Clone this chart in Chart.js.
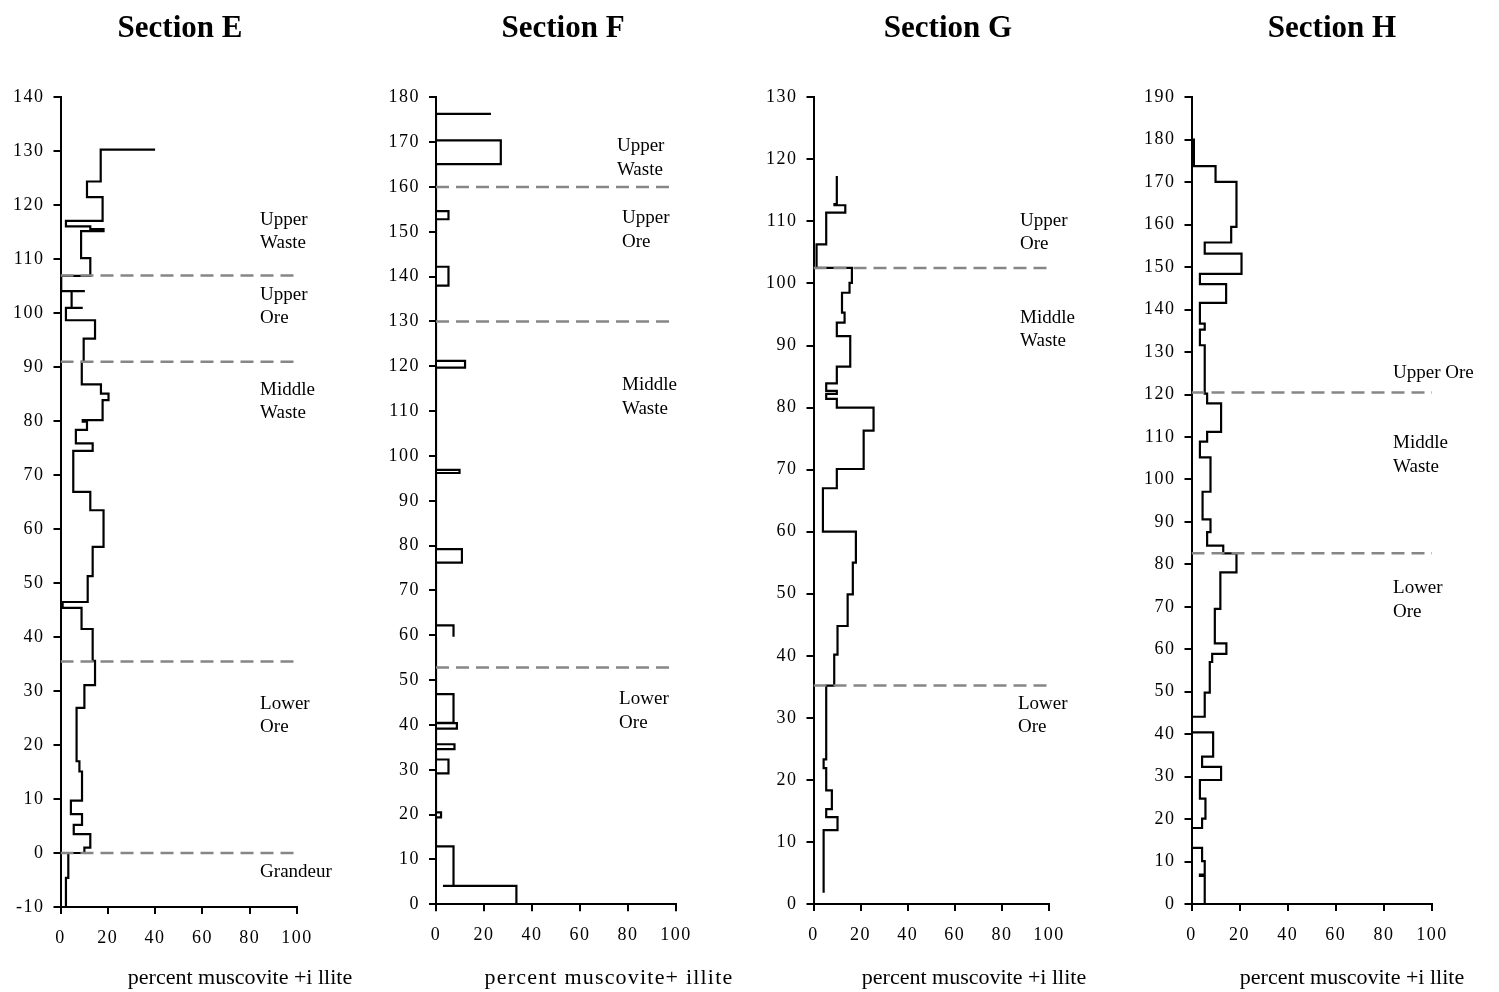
<!DOCTYPE html>
<html>
<head>
<meta charset="utf-8">
<script src="https://cdn.jsdelivr.net/npm/chart.js@4.4.1/dist/chart.umd.min.js"></script>
<style>
  html, body { margin: 0; padding: 0; background: #fff; }
  #wrap { position: relative; width: 1499px; height: 992px; overflow: hidden; }
  canvas { position: absolute; top: 0; }
</style>
</head>
<body>
<div id="wrap">
  <canvas id="secE" width="375" height="992" style="left:0px"></canvas>
  <canvas id="secF" width="375" height="992" style="left:375px"></canvas>
  <canvas id="secG" width="375" height="992" style="left:750px"></canvas>
  <canvas id="secH" width="374" height="992" style="left:1125px"></canvas>
</div>
<script>
// depth boundaries (top -> bottom) and percent muscovite + illite for each interval
const eDepth = [130.3, 130.3, 124.4, 121.5, 117.1, 116.1, 115.6, 115.2, 110.2, 106.9,
                104.1, 104.1, 101.0, 101.0, 98.7, 95.3, 91.0, 86.8, 85.1, 83.9,
                80.2, 79.9, 78.4, 75.9, 74.5, 66.9, 63.5, 56.7, 51.3, 46.5,
                45.4, 41.5, 35.6, 31.1, 26.9, 17.0, 15.1, 9.7, 7.2, 5.2,
                3.5, 1.0, 0.0, -4.6, -10];
const ePct = [40, 17, 11.2, 17.8, 2.3, 12.6, 18.2, 8.7, 12.6, 0.3,
              10.3, 4.7, 9.4, 2.3, 14.6, 9.8, 9.0, 17.1, 20.3, 17.8,
              9.4, 11.2, 6.5, 13.6, 5.4, 12.6, 18.2, 13.6, 11.5, 0.9,
              8.9, 13.6, 14.6, 10.1, 6.8, 8.0, 9.1, 4.4, 9.1, 5.6,
              12.6, 10.1, 3.3, 2.3];

const fDepth = [176.3, 176.3, 170.4, 165.1, 154.6, 152.8, 142.2, 138.0, 121.2, 119.7,
                96.9, 96.2, 79.2, 76.2, 62.2, 59.7, 59.7, 46.9, 40.5, 40.4, 39.2,
                35.7, 34.6, 32.3, 29.2, 20.5, 19.4, 12.9, 4.1, 4.1, 0];
const fPct = [22.9, 0, 27.0, 0, 5.2, 0, 5.2, 0, 12.1, 0,
              9.8, 0, 10.8, 0, 7.3, null, 0, 7.3, 0, 8.7,
              0, 7.7, 0, 5.2, 0, 2.1, 0, 7.3, 2.9, 33.5];

const gDepth = [117.3, 112.8, 112.6, 111.4, 106.3, 102.5, 100.1, 98.5, 95.3, 93.7,
                91.5, 86.6, 83.9, 82.7, 82.2, 81.4, 80.0, 76.3, 70.1, 67.0,
                60.0, 55.0, 49.9, 44.8, 40.2, 35.2, 23.3, 21.9, 18.3, 15.3,
                14.0, 11.9, 1.8];
const gPct = [9.9, 8.9, 13.5, 5.4, 1.3, 16.3, 15.3, 12.1, 13.2, 9.9,
              15.6, 9.9, 5.4, 9.9, 5.4, 9.9, 25.5, 21.3, 9.9, 4.0,
              18.0, 16.7, 14.5, 10.2, 8.8, 5.4, 4.3, 5.4, 7.8, 5.4,
              10.2, 4.3];

const hDepth = [180.3, 173.8, 170.1, 159.5, 155.8, 153.2, 148.4, 146.0, 141.6, 136.7,
                135.3, 131.6, 120.2, 117.9, 111.2, 108.9, 105.2, 97.1, 90.6, 87.6,
                84.4, 82.6, 78.1, 69.5, 61.4, 58.9, 57.0, 49.8, 44.1, 40.4,
                34.7, 32.3, 29.2, 24.8, 20.1, 17.9, 13.2, 10.1, 6.9, 6.6, 0];
const hPct = [1.0, 10.0, 18.7, 16.5, 5.5, 20.8, 3.5, 14.4, 3.5, 5.5,
              3.5, 5.5, 6.5, 12.3, 6.5, 3.5, 7.9, 4.6, 7.9, 6.5,
              13.2, 18.7, 12.0, 9.7, 14.5, 8.6, 7.6, 5.5, 0, 9.0,
              4.4, 12.3, 3.5, 5.8, 4.4, 0, 4.4, 5.5, 3.5, 5.5];

// zone boundaries (dashed lines)
const eBounds = [107, 91, 35.5, 0];
const fBounds = [160, 130, 52.8];
const gBounds = [102.5, 35.2];
const hBounds = [120.5, 82.6];

const eZones = [['Upper', 'Waste'], ['Upper', 'Ore'], ['Middle', 'Waste'], ['Lower', 'Ore'], ['Grandeur']];
const fZones = [['Upper', 'Waste'], ['Upper', 'Ore'], ['Middle', 'Waste'], ['Lower', 'Ore']];
const gZones = [['Upper', 'Ore'], ['Middle', 'Waste'], ['Lower', 'Ore']];
const hZones = [['Upper Ore'], ['Middle', 'Waste'], ['Lower', 'Ore']];

const SERIF = "'Liberation Serif', 'Times New Roman', serif";
Chart.defaults.font.family = SERIF;
Chart.defaults.color = '#000';

// turn interval values into a stepped outline
function steps(depth, pct) {
    const pts = [];
    pct.forEach((v, i) => {
        if (v === null) { pts.push({x: null, y: null}); return; }
        pts.push({x: v, y: depth[i]}, {x: v, y: depth[i + 1]});
    });
    return pts;
}

// tick labels in the original are slightly letter-spaced
const tickSpacing = {
    id: 'tickSpacing',
    beforeDraw(chart) { chart.ctx.letterSpacing = '1.5px'; },
    beforeDatasetsDraw(chart) { chart.ctx.letterSpacing = '0px'; }
};

// section title, zone names and the x-axis caption
const panelText = {
    id: 'panelText',
    afterDraw(chart, args, opts) {
        const ctx = chart.ctx;
        const xs = chart.scales.x, ys = chart.scales.y;
        ctx.save();
        ctx.letterSpacing = '0px';
        ctx.fillStyle = '#000';
        ctx.textBaseline = 'middle';

        ctx.font = 'bold 31px ' + SERIF;
        ctx.textAlign = 'center';
        ctx.fillText(opts.title, opts.titleX, 29);

        ctx.font = '19px ' + SERIF;
        ctx.textAlign = 'left';
        opts.zones.forEach((lines, i) => {
            const pos = opts.zonePos[i];
            const px = xs.getPixelForValue(pos[0]);
            const py = ys.getPixelForValue(pos[1]);
            lines.forEach((t, j) => ctx.fillText(t, px, py + j * opts.lineGap));
        });

        ctx.font = '22px ' + SERIF;
        ctx.letterSpacing = opts.xTitleSpacing;
        ctx.textAlign = 'center';
        ctx.fillText(opts.xTitle, opts.xTitleX, 978);
        ctx.restore();
    }
};

function makePanel(p) {
    const dashed = p.bounds.map(d => ({
        data: [{x: 0, y: d}, {x: 100, y: d}],
        showLine: true,
        borderColor: '#868686',
        borderWidth: 2.5,
        borderDash: [13, 7],
        pointRadius: 0
    }));
    const ctx = document.getElementById(p.id).getContext('2d');
    new Chart(ctx, {
        type: 'scatter',
        data: {
            datasets: dashed.concat([{
                data: steps(p.depth, p.pct),
                showLine: true,
                spanGaps: false,
                borderColor: '#000',
                borderWidth: 2.2,
                pointRadius: 0,
                tension: 0
            }])
        },
        options: {
            responsive: false,
            animation: false,
            layout: { padding: { top: p.top, right: p.padRight, left: 0, bottom: 0 } },
            plugins: {
                legend: { display: false },
                tooltip: { enabled: false },
                panelText: {
                    title: p.title, titleX: p.titleX,
                    zones: p.zones, zonePos: p.zonePos, lineGap: p.lineGap,
                    xTitle: p.xTitle, xTitleX: p.xTitleX, xTitleSpacing: p.xTitleSpacing
                }
            },
            scales: {
                x: {
                    type: 'linear', min: 0, max: 100,
                    ticks: { stepSize: 20, padding: 13, font: { size: 18 }, maxRotation: 0 },
                    grid: { drawOnChartArea: false, tickLength: 7, color: '#000', lineWidth: 2 },
                    border: { color: '#000', width: 2 },
                    afterFit: s => { s.height = p.xAxisH; }
                },
                y: {
                    type: 'linear', min: p.yMin, max: p.yMax,
                    ticks: { stepSize: 10, padding: 9, font: { size: 18 } },
                    grid: { drawOnChartArea: false, tickLength: 7, color: '#000', lineWidth: 2 },
                    border: { color: '#000', width: 2 },
                    afterFit: s => { s.width = p.yAxisW; }
                }
            }
        },
        plugins: [tickSpacing, panelText]
    });
}

makePanel({
    id: 'secE', title: 'Section E', titleX: 180,
    depth: eDepth, pct: ePct, bounds: eBounds, yMin: -10, yMax: 140,
    zones: eZones, zonePos: [[84.4, 117.3], [84.4, 103.4], [84.4, 85.8], [84.4, 27.6], [84.4, -3.5]], lineGap: 23,
    xTitle: 'percent muscovite +i llite', xTitleX: 240, xTitleSpacing: '0px',
    top: 97.3, padRight: 78, yAxisW: 60.5, xAxisH: 85
});
makePanel({
    id: 'secF', title: 'Section F', titleX: 188,
    depth: fDepth, pct: fPct, bounds: fBounds, yMin: 0, yMax: 180,
    zones: fZones, zonePos: [[75.4, 169.1], [77.5, 153.1], [77.5, 115.8], [76.3, 45.8]], lineGap: 24,
    xTitle: 'percent muscovite+ illite', xTitleX: 234, xTitleSpacing: '1.2px',
    top: 97.3, padRight: 74, yAxisW: 61, xAxisH: 87.7
});
makePanel({
    id: 'secG', title: 'Section G', titleX: 198,
    depth: gDepth, pct: gPct, bounds: gBounds, yMin: 0, yMax: 130,
    zones: gZones, zonePos: [[87.7, 110.1], [87.7, 94.4], [86.8, 32.2]], lineGap: 23,
    xTitle: 'percent muscovite +i llite', xTitleX: 224, xTitleSpacing: '0px',
    top: 97.3, padRight: 76, yAxisW: 63.5, xAxisH: 88
});
makePanel({
    id: 'secH', title: 'Section H', titleX: 207,
    depth: hDepth, pct: hPct, bounds: hBounds, yMin: 0, yMax: 190,
    zones: hZones, zonePos: [[83.8, 125.1], [83.8, 108.6], [83.8, 74.5]], lineGap: 24,
    xTitle: 'percent muscovite +i llite', xTitleX: 227, xTitleSpacing: '0px',
    top: 97.3, padRight: 67, yAxisW: 66.5, xAxisH: 88
});
</script>
</body>
</html>
